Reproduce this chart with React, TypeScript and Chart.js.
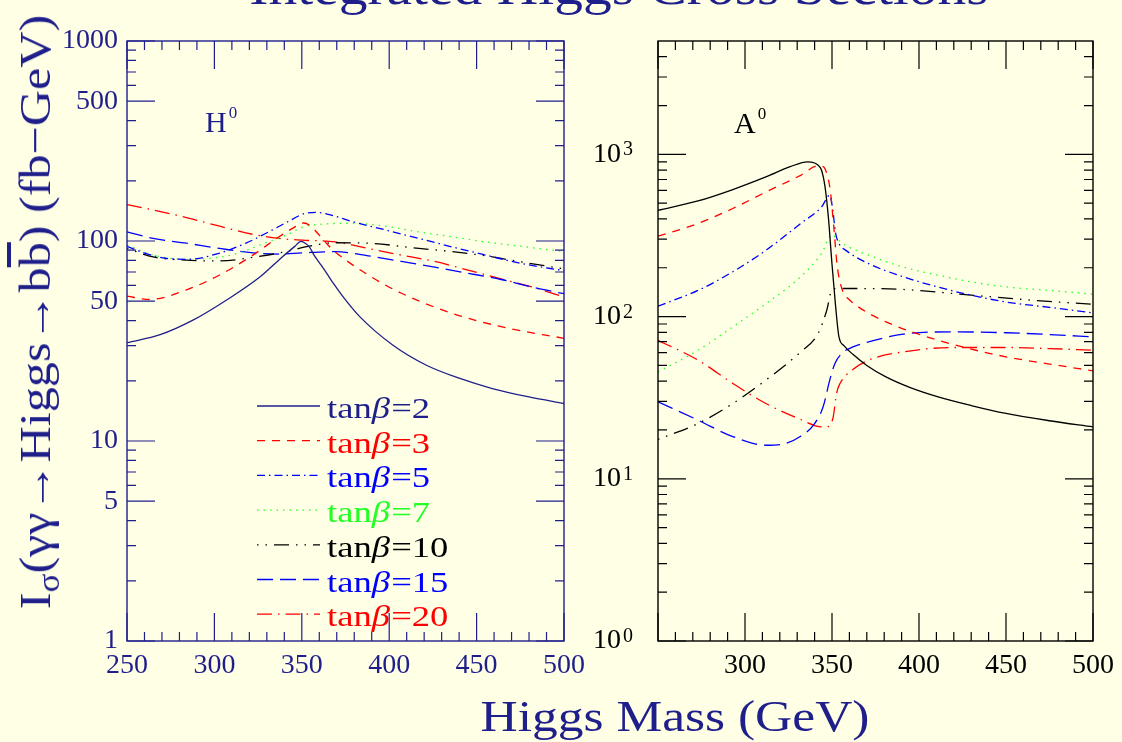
import React, { useEffect, useRef } from 'react';
import { Chart, registerables } from 'chart.js';

Chart.register(...registerables);

// ---------- style constants ----------
const BG = '#ffffe6';
const NAVY = '#1f1f8c';
const RED = '#ff0000';
const BLUE = '#0000ff';
const GREEN = '#22ff22';
const BLACK = '#000000';
const SERIF = "'Liberation Serif', 'Times New Roman', serif";

// ---------- axis ticks ----------
const xTickValues = [250, 300, 350, 400, 450, 500];
const xMinorValues = [260, 270, 280, 290, 310, 320, 330, 340, 360, 370, 380, 390, 410, 420, 430, 440, 460, 470, 480, 490];
const hYTicks = [1, 5, 10, 50, 100, 500, 1000];
const hYMinor = [2, 3, 4, 6, 7, 8, 9, 20, 30, 40, 60, 70, 80, 90, 200, 300, 400, 600, 700, 800, 900];
const aYTicks = [1, 10, 100, 1000];
const aYMinor = [2, 3, 4, 5, 6, 7, 8, 9, 20, 30, 40, 50, 60, 70, 80, 90, 200, 300, 400, 500, 600, 700, 800, 900, 2000, 3000, 4000];
const aYExponents: Record<number, string> = { 1: '0', 10: '1', 100: '2', 1000: '3' };

const seriesLabels = ['tanβ=2', 'tanβ=3', 'tanβ=5', 'tanβ=7', 'tanβ=10', 'tanβ=15', 'tanβ=20'];

// ---------- H0 panel data (mass GeV, I_sigma fb-GeV) ----------
const H_m2 = [250, 269, 288, 307, 326, 339, 346, 349.5, 352, 354.5, 357, 360, 364, 368, 373, 383, 402, 421, 440, 459, 480, 500];
const H_v2 = [31, 34, 40.3, 50.7, 66, 83.5, 94, 99.5, 97.5, 93, 85, 78, 69.5, 61.5, 53.5, 42, 30.2, 24, 20.6, 18.3, 16.6, 15.4];
const H_m3 = [250, 263, 284, 303, 322, 337, 345, 351, 355, 360, 365, 369, 388, 407, 436, 464, 500];
const H_v3 = [53, 51, 57, 67.6, 85, 105, 116, 123, 119, 107, 95.5, 88.4, 67.6, 54.8, 43.5, 37.3, 32.6];
const H_m5 = [250, 260, 272, 285, 303, 318, 331, 341, 352, 358, 365, 379, 398, 417, 436, 455, 474, 500];
const H_v5 = [94, 87, 82, 81, 87, 97.5, 111, 123.5, 137.5, 139, 136, 125, 113.5, 103, 93.4, 85.1, 77.7, 71];
const H_m7 = [250, 265, 284, 303, 313, 326, 341, 352, 360, 370, 379, 398, 417, 436, 455, 474, 500];
const H_v7 = [95.5, 85, 81, 83, 86.6, 95.5, 107, 118.6, 121, 122.5, 122.7, 118.6, 111, 105, 99, 94.4, 88.5];
const H_m10 = [250, 265, 284, 303, 322, 341, 352, 369, 388, 417, 436, 455, 474, 500];
const H_v10 = [91.8, 83.2, 80.2, 79.5, 82.8, 88.5, 93.4, 98, 97.5, 91.8, 88.5, 84.3, 79, 72.5];
const H_m15 = [250, 265, 284, 303, 322, 337, 350, 369, 388, 407, 426, 445, 464, 483, 500];
const H_v15 = [111, 103, 97.5, 91.8, 87.2, 86, 87.2, 88.5, 84.3, 79, 74, 69, 64.2, 58.5, 54.5];
const H_m20 = [250, 265, 284, 303, 322, 337, 350, 369, 388, 407, 426, 445, 464, 483, 500];
const H_v20 = [152, 143, 131, 118.6, 108, 103, 101, 99, 91.8, 85, 79, 71.6, 64.6, 58.5, 52.5];

// ---------- A0 panel data ----------
const A_m2 = [250, 273, 293, 312, 326, 336, 340, 342, 344, 346, 348, 350, 352, 354, 357, 362, 370, 381, 395, 411, 430, 450, 475, 500];
const A_v2 = [452, 516, 607, 726, 840, 900, 885, 857, 798, 630, 400, 210, 118, 75, 66, 58.5, 50, 42.5, 36.5, 32, 28.3, 25.3, 22.8, 20.9];
const A_m3 = [250, 273, 293, 312, 332, 342, 345, 347, 349, 351, 353, 356, 360, 365, 373, 381, 395, 411, 430, 450, 475, 500];
const A_v3 = [313, 375, 464, 586, 743, 850, 840, 760, 600, 360, 205, 145, 127, 115, 102, 92.8, 81, 71.5, 63, 56.5, 51, 46.3];
const A_m5 = [250, 273, 293, 312, 332, 344, 348.7, 350.5, 352, 354, 358, 371, 391, 411, 430, 450, 475, 500];
const A_v5 = [116, 145, 189, 256, 375, 474, 560, 450, 330, 282, 256, 212, 176, 152, 135.5, 123, 114, 105.4];
const A_m7 = [250, 273, 293, 312, 332, 344, 350, 353, 358, 371, 391, 411, 430, 450, 475, 500];
const A_v7 = [45.6, 62, 86.4, 120, 176, 245, 320, 300, 275, 239, 202, 180, 163.6, 152.4, 145, 137.4];
const A_m10 = [250, 273, 293, 312, 332, 342, 347, 350, 353, 358, 391, 430, 470, 500];
const A_v10 = [17.5, 21.9, 29.1, 40.6, 60.6, 78.7, 109.5, 147, 149, 149, 147, 135.5, 125, 119];
const A_m15 = [250, 273, 293, 312, 322, 332, 340, 345, 348.7, 351.7, 355.6, 362, 371, 391, 420, 450, 475, 500];
const A_v15 = [29.8, 23, 18.2, 16.1, 16.4, 18.3, 21.9, 28, 40.6, 51.4, 59.2, 65, 69.8, 77.9, 80.5, 79.5, 77.5, 75];
const A_m20 = [250, 273, 293, 312, 332, 344, 348, 350.7, 352.6, 354.6, 361.5, 371, 391, 420, 450, 475, 500];
const A_v20 = [71.5, 53.9, 38.7, 29.1, 23.2, 20.9, 21, 24.1, 33.6, 38.7, 46.7, 53.9, 60.6, 64.5, 64.5, 63.5, 62.1];

// ---------- line styles ----------
const DASH_2: number[] = [];
const DASH_3 = [8, 7];
const DASH_5 = [8, 4, 1.5, 4];
const DASH_7 = [1.5, 5];
const DASH_10 = [1.5, 7, 1.5, 7, 15, 7];
const DASH_15 = [16, 7];
const DASH_20 = [15, 6, 1.5, 6];

function mk(label: string, xs: number[], ys: number[], color: string, dash: number[]) {
  return {
    label,
    data: xs.map((x, i) => ({ x, y: ys[i] })),
    borderColor: color,
    backgroundColor: color,
    borderDash: dash,
    borderWidth: 1.3,
    pointRadius: 0,
    fill: false,
    cubicInterpolationMode: 'monotone',
  };
}

function framePlugin(color: string, yMajor: number[], yMinor: number[]) {
  return {
    id: 'frameTicks',
    afterDatasetsDraw(chart: any) {
      const { ctx, chartArea: a, scales } = chart;
      const xs = scales.x;
      const ys = scales.y;
      const MAJ = 28;
      const MIN = 9;
      ctx.save();
      ctx.strokeStyle = color;
      ctx.lineWidth = 1.2;
      ctx.setLineDash([]);
      ctx.beginPath();
      const seg = (x1: number, y1: number, x2: number, y2: number) => {
        ctx.moveTo(x1, y1);
        ctx.lineTo(x2, y2);
      };
      const doX = (vals: number[], len: number) => {
        vals.forEach((v) => {
          const px = xs.getPixelForValue(v);
          seg(px, a.bottom, px, a.bottom - len);
          seg(px, a.top, px, a.top + len);
        });
      };
      const doY = (vals: number[], len: number) => {
        vals.forEach((v) => {
          const py = ys.getPixelForValue(v);
          seg(a.left, py, a.left + len, py);
          seg(a.right, py, a.right - len, py);
        });
      };
      doX(xTickValues, MAJ);
      doX(xMinorValues, MIN);
      doY(yMajor, MAJ);
      doY(yMinor, MIN);
      ctx.stroke();
      ctx.lineWidth = 1.4;
      ctx.strokeRect(a.left, a.top, a.right - a.left, a.bottom - a.top);
      ctx.restore();
    },
  };
}

// exponent superscripts next to the "10" tick labels of the log axis
function exponentPlugin(color: string) {
  return {
    id: 'expLabels',
    afterDraw(chart: any) {
      const { ctx, scales } = chart;
      const ys = scales.y;
      ctx.save();
      ctx.fillStyle = color;
      ctx.font = `20px ${SERIF}`;
      ctx.textAlign = 'left';
      ctx.textBaseline = 'alphabetic';
      (ys.ticks || []).forEach((t: any) => {
        const e = aYExponents[t.value];
        if (e === undefined) return;
        const py = ys.getPixelForValue(t.value);
        ctx.fillText(e, ys.left + 30, py + 1);
      });
      ctx.restore();
    },
  };
}

const LEG = { x0: 257, x1: 320, tx: 327, y0: 408, dy: 34.7, sx: 1.22, size: 30 };

function legendPlugin() {
  return {
    id: 'tbLegend',
    afterDatasetsDraw(chart: any) {
      const ctx = chart.ctx;
      chart.data.datasets.forEach((ds: any, i: number) => {
        const cy = LEG.y0 + i * LEG.dy;
        ctx.save();
        ctx.strokeStyle = ds.borderColor;
        ctx.lineWidth = ds.borderWidth;
        ctx.setLineDash(ds.borderDash || []);
        ctx.beginPath();
        ctx.moveTo(LEG.x0, cy - 2);
        ctx.lineTo(LEG.x1, cy - 2);
        ctx.stroke();
        ctx.setLineDash([]);
        ctx.translate(LEG.tx, cy + 10);
        ctx.scale(LEG.sx, 1);
        ctx.fillStyle = ds.borderColor;
        ctx.textBaseline = 'alphabetic';
        ctx.textAlign = 'left';
        const [pre, post] = String(ds.label).split('β');
        ctx.font = `${LEG.size}px ${SERIF}`;
        ctx.fillText(pre, 0, 0);
        let w = ctx.measureText(pre).width;
        ctx.font = `italic ${LEG.size}px ${SERIF}`;
        ctx.fillText('β', w, 0);
        w += ctx.measureText('β').width + 1;
        ctx.font = `${LEG.size}px ${SERIF}`;
        ctx.fillText(post, w, 0);
        ctx.restore();
      });
    },
  };
}

function panelConfig(opts: {
  datasets: any[];
  yMax: number;
  yTicks: number[];
  yMinor: number[];
  yLabel: (v: number) => string;
  xLabel: (v: number) => string;
  color: string;
  padRight: number;
  yWidth: number;
  yPad: number;
  yCross: string;
  legend: boolean;
  exponents: boolean;
}) {
  const plugins: any[] = [framePlugin(opts.color, opts.yTicks, opts.yMinor)];
  if (opts.legend) plugins.push(legendPlugin());
  if (opts.exponents) plugins.push(exponentPlugin(opts.color));
  return {
    type: 'line',
    data: { datasets: opts.datasets },
    options: {
      responsive: false,
      maintainAspectRatio: false,
      animation: false,
      events: [],
      layout: { padding: { left: 0, right: opts.padRight, top: 41, bottom: 51 } },
      plugins: { legend: { display: false }, tooltip: { enabled: false }, title: { display: false } },
      scales: {
        x: {
          type: 'linear',
          min: 250,
          max: 500,
          grid: { display: false, drawTicks: false },
          border: { display: false },
          afterBuildTicks: (s: any) => {
            s.ticks = xTickValues.map((v) => ({ value: v }));
          },
          afterFit: (s: any) => {
            s.height = 50;
          },
          ticks: {
            color: opts.color,
            font: { family: SERIF, size: 28 },
            padding: 8,
            maxRotation: 0,
            autoSkip: false,
            callback: (v: any) => opts.xLabel(Number(v)),
          },
        },
        y: {
          type: 'logarithmic',
          min: 1,
          max: opts.yMax,
          grid: { display: false, drawTicks: false },
          border: { display: false },
          afterBuildTicks: (s: any) => {
            s.ticks = opts.yTicks.map((v) => ({ value: v }));
          },
          afterFit: (s: any) => {
            s.width = opts.yWidth;
          },
          ticks: {
            color: opts.color,
            font: { family: SERIF, size: 28 },
            padding: opts.yPad,
            crossAlign: opts.yCross,
            autoSkip: false,
            callback: (v: any) => opts.yLabel(Number(v)),
          },
        },
      },
    },
    plugins,
  };
}

export default function App() {
  const leftRef = useRef<HTMLCanvasElement>(null);
  const rightRef = useRef<HTMLCanvasElement>(null);

  useEffect(() => {
    const hSets = [
      mk(seriesLabels[0], H_m2, H_v2, NAVY, DASH_2),
      mk(seriesLabels[1], H_m3, H_v3, RED, DASH_3),
      mk(seriesLabels[2], H_m5, H_v5, BLUE, DASH_5),
      mk(seriesLabels[3], H_m7, H_v7, GREEN, DASH_7),
      mk(seriesLabels[4], H_m10, H_v10, BLACK, DASH_10),
      mk(seriesLabels[5], H_m15, H_v15, BLUE, DASH_15),
      mk(seriesLabels[6], H_m20, H_v20, RED, DASH_20),
    ];
    const aSets = [
      mk(seriesLabels[0], A_m2, A_v2, BLACK, DASH_2),
      mk(seriesLabels[1], A_m3, A_v3, RED, DASH_3),
      mk(seriesLabels[2], A_m5, A_v5, BLUE, DASH_5),
      mk(seriesLabels[3], A_m7, A_v7, GREEN, DASH_7),
      mk(seriesLabels[4], A_m10, A_v10, BLACK, DASH_10),
      mk(seriesLabels[5], A_m15, A_v15, BLUE, DASH_15),
      mk(seriesLabels[6], A_m20, A_v20, RED, DASH_20),
    ];
    const left = new Chart(
      leftRef.current as HTMLCanvasElement,
      panelConfig({
        datasets: hSets,
        yMax: 1000,
        yTicks: hYTicks,
        yMinor: hYMinor,
        yLabel: (v) => String(v),
        xLabel: (v) => String(v),
        color: NAVY,
        padRight: 27,
        yWidth: 127,
        yPad: 9,
        yCross: 'near',
        legend: true,
        exponents: false,
      }) as any
    );
    const right = new Chart(
      rightRef.current as HTMLCanvasElement,
      panelConfig({
        datasets: aSets,
        yMax: 5000,
        yTicks: aYTicks,
        yMinor: aYMinor,
        yLabel: (v) => (aYExponents[v] !== undefined ? '10' : ''),
        xLabel: (v) => (v === 250 ? '' : String(v)),
        color: BLACK,
        padRight: 26,
        yWidth: 65,
        yPad: 12,
        yCross: 'far',
        legend: false,
        exponents: true,
      }) as any
    );
    return () => {
      left.destroy();
      right.destroy();
    };
  }, []);

  const textBase: React.CSSProperties = {
    position: 'absolute',
    fontFamily: SERIF,
    whiteSpace: 'nowrap',
    lineHeight: 1,
  };

  return (
    <div
      style={{
        position: 'fixed',
        left: 0,
        top: 0,
        width: 1122,
        height: 742,
        background: BG,
        overflow: 'hidden',
      }}
    >
      <canvas ref={leftRef} width={593} height={742} style={{ position: 'absolute', left: 0, top: 0, display: 'block' }} />
      <canvas ref={rightRef} width={529} height={742} style={{ position: 'absolute', left: 593, top: 0, display: 'block' }} />

      {/* main title (mostly cut off at top) */}
      <div
        style={{
          ...textBase,
          left: 619,
          top: -38,
          fontSize: 50,
          color: NAVY,
          transform: 'translateX(-50%) scaleX(1.15)',
        }}
      >
        Integrated Higgs Cross Sections
      </div>

      {/* x-axis title */}
      <div
        style={{
          ...textBase,
          left: 675,
          top: 695,
          fontSize: 44,
          color: NAVY,
          transform: 'translateX(-50%) scaleX(1.17)',
        }}
      >
        Higgs Mass (GeV)
      </div>

      {/* y-axis title */}
      <div
        style={{
          ...textBase,
          left: 36,
          top: 312,
          fontSize: 44,
          color: NAVY,
          transform: 'translate(-50%, -50%) rotate(-90deg) scaleX(1.14)',
        }}
      >
        I<span style={{ fontSize: '0.7em', position: 'relative', top: '0.3em' }}>σ</span>(γγ→Higgs→b
        <span style={{ textDecoration: 'overline' }}>b</span>) (fb−GeV)
      </div>

      {/* panel labels */}
      <div style={{ ...textBase, left: 205, top: 107, fontSize: 30, color: NAVY }}>
        H<span style={{ fontSize: 17, position: 'relative', top: -14, marginLeft: 2 }}>0</span>
      </div>
      <div style={{ ...textBase, left: 734, top: 108, fontSize: 30, color: BLACK }}>
        A<span style={{ fontSize: 17, position: 'relative', top: -14, marginLeft: 2 }}>0</span>
      </div>
    </div>
  );
}
